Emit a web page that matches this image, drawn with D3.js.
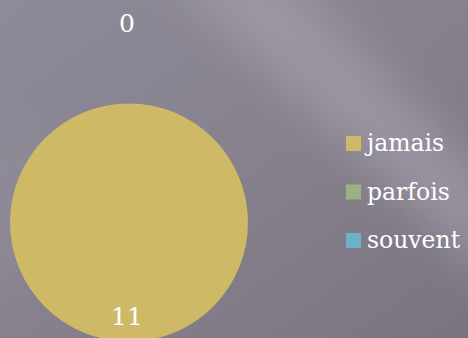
<!DOCTYPE html>
<html>
<head>
<meta charset="utf-8">
<script src="https://cdn.jsdelivr.net/npm/d3@7"></script>
<style>
  html, body { margin: 0; padding: 0; background: #8a8592; }
  svg { display: block; }
</style>
</head>
<body>
<svg id="chart" width="468" height="338"></svg>
<script>
// Réponses : fréquence
const categories = ["jamais", "parfois", "souvent"];
const values = [11, 0, 0];
const colors = ["#CEB966", "#9CB084", "#6BB1C9"];

const W = 468, H = 338;
const svg = d3.select("#chart");
const defs = svg.append("defs");

// Fond texturé gris-mauve avec une bande claire en diagonale
const bg = defs.append("linearGradient").attr("id", "bg")
  .attr("x1", "0").attr("y1", "0").attr("x2", "1").attr("y2", "1");
bg.append("stop").attr("offset", "0").attr("stop-color", "#8f8a98");
bg.append("stop").attr("offset", "0.5").attr("stop-color", "#86818d");
bg.append("stop").attr("offset", "1").attr("stop-color", "#79747e");

const blur = defs.append("filter").attr("id", "soft")
  .attr("x", "-50%").attr("y", "-50%").attr("width", "200%").attr("height", "200%");
blur.append("feGaussianBlur").attr("stdDeviation", 22);

svg.append("rect").attr("width", W).attr("height", H).attr("fill", "url(#bg)");
svg.append("path")
  .attr("d", "M160,-30 L280,-30 L500,190 L500,290 Z")
  .attr("fill", "#a8a2af").attr("opacity", 0.6).attr("filter", "url(#soft)");
svg.append("path")
  .attr("d", "M-20,150 L40,110 L30,260 L-20,300 Z")
  .attr("fill", "#9a95a2").attr("opacity", 0.35).attr("filter", "url(#soft)");

// Camembert
const cx = 129, cy = 222.5, R = 119;
const pie = d3.pie().value(d => d.v).sort(null);
const arcs = pie(categories.map((c, i) => ({ c, v: values[i], color: colors[i] })));
const arc = d3.arc().innerRadius(0).outerRadius(R);

const g = svg.append("g").attr("transform", `translate(${cx},${cy})`);
g.selectAll("path.slice").data(arcs).join("path")
  .attr("class", "slice")
  .attr("d", arc)
  .attr("fill", d => d.data.color);

// Étiquettes de valeurs
const labelArcIn = d3.arc().innerRadius(93).outerRadius(93);
const labelArcOut = d3.arc().innerRadius(200).outerRadius(200);
const labelData = arcs.filter((d, i) => i < 2); // les deux parts nulles se superposent
g.selectAll("text.val").data(labelData).join("text")
  .attr("class", "val")
  .attr("transform", d => {
    const p = (d.data.v > 0 ? labelArcIn : labelArcOut).centroid(d);
    return `translate(${p[0] - 2},${p[1]})`;
  })
  .attr("dy", "0.36em")
  .attr("text-anchor", "middle")
  .attr("font-family", "DejaVu Serif, serif")
  .attr("font-size", 25)
  .attr("fill", "#ffffff")
  .text(d => d.data.v);

// Légende
const legend = svg.append("g").attr("transform", "translate(346,136)");
const item = legend.selectAll("g").data(categories).join("g")
  .attr("transform", (d, i) => `translate(0,${i * 48.5})`);
item.append("rect").attr("width", 15).attr("height", 15)
  .attr("fill", (d, i) => colors[i]);
item.append("text").attr("x", 21).attr("y", 15)
  .attr("font-family", "DejaVu Serif, serif")
  .attr("font-size", 23.5)
  .attr("fill", "#ffffff")
  .text(d => d);
</script>
</body>
</html>
